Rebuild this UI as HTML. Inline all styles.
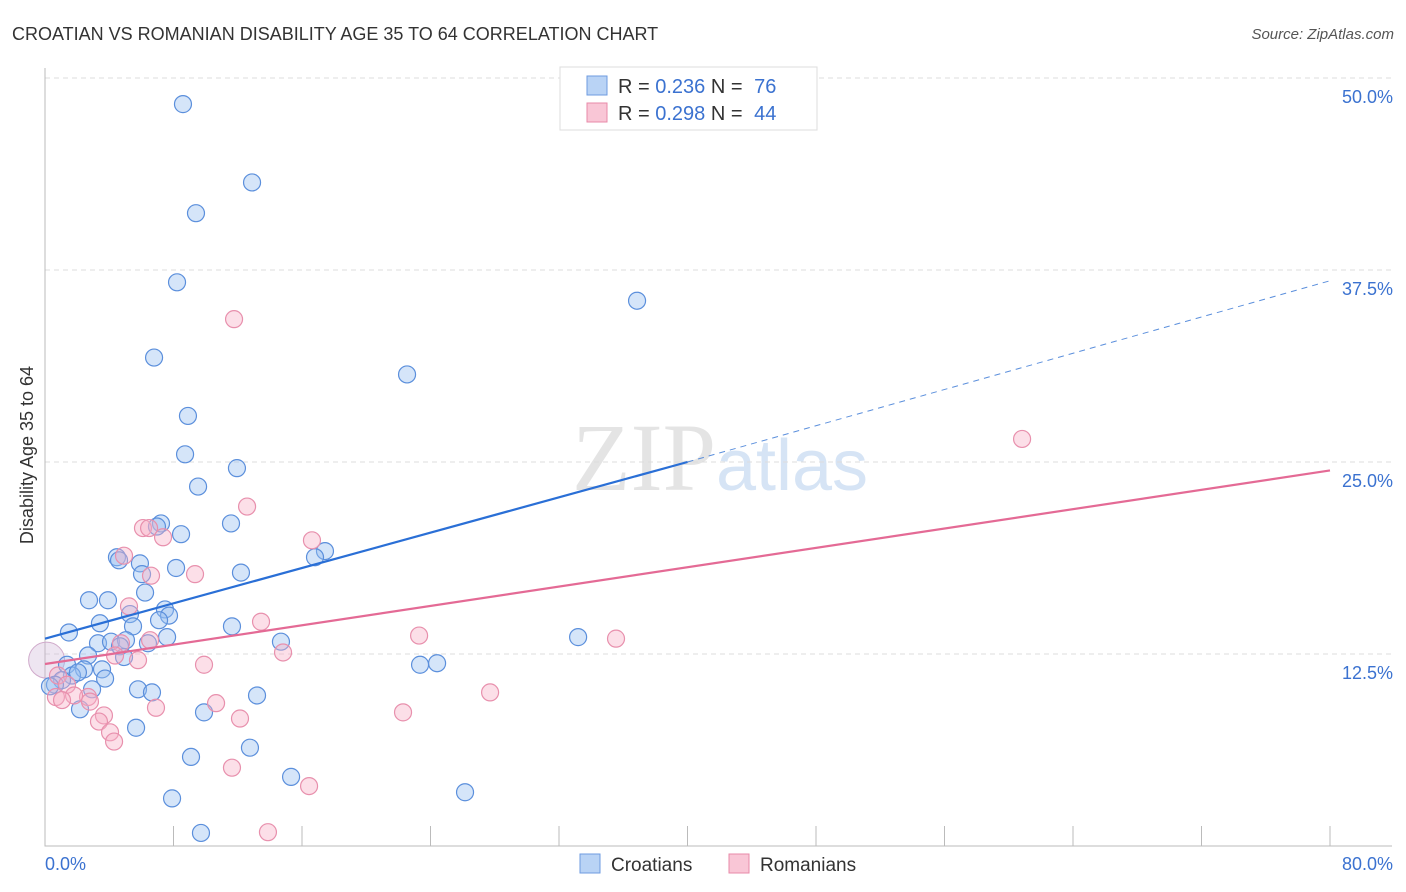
<!DOCTYPE html>
<html><head><meta charset="utf-8"><style>
body{margin:0;background:#fff;font-family:"Liberation Sans",sans-serif}
svg{display:block}
</style></head><body>
<svg id="c" width="1406" height="892">
<text x="12" y="40" font-size="18" fill="#333">CROATIAN VS ROMANIAN DISABILITY AGE 35 TO 64 CORRELATION CHART</text>
<text x="1394" y="39" font-size="15" fill="#555" font-style="italic" text-anchor="end">Source: ZipAtlas.com</text>
<text x="720" y="490" font-size="96" fill="#e4e4e4" text-anchor="middle" font-family="Liberation Serif,serif">ZIP<tspan fill="#d6e4f5" font-family="Liberation Sans,sans-serif" font-size="72">atlas</tspan></text>
<g id="grid"></g>
<g id="axes"></g>
<g id="pts"></g>
<g id="lines"></g>
<text transform="translate(33,455) rotate(-90)" font-size="18" fill="#333" text-anchor="middle">Disability Age 35 to 64</text>
<text x="45" y="870" font-size="18" fill="#3b72d0">0.0%</text>
<text x="1393" y="870" font-size="18" fill="#3b72d0" text-anchor="end">80.0%</text>
<g>
<rect x="560" y="67" width="257" height="63" fill="#fff" stroke="#ddd"/>
<rect x="587" y="76" width="20" height="19" fill="#b9d3f5" stroke="#6e9be0"/>
<rect x="587" y="103" width="20" height="19" fill="#f9c6d6" stroke="#e88aa8"/>
<text x="618" y="93" font-size="20" fill="#333">R = <tspan fill="#3b72d0">0.236</tspan>   N = <tspan fill="#3b72d0" dx="6">76</tspan></text>
<text x="618" y="120" font-size="20" fill="#333">R = <tspan fill="#3b72d0">0.298</tspan>   N = <tspan fill="#3b72d0" dx="6">44</tspan></text>
</g>
<g>
<rect x="580" y="854" width="20" height="19" fill="#b9d3f5" stroke="#6e9be0"/>
<text x="611" y="871" font-size="19" fill="#333">Croatians</text>
<rect x="729" y="854" width="20" height="19" fill="#f9c6d6" stroke="#e88aa8"/>
<text x="760" y="871" font-size="19" fill="#333">Romanians</text>
</g>
</svg>
<script>
const yTicks=[12.5,25,37.5,50];
const yTickLabels=["12.5%","25.0%","37.5%","50.0%"];
const xTicks=[0,8,16,24,32,40,48,56,64,72,80];
const croX=[8.59,12.89,9.40,8.22,36.86,6.79,22.54,8.90,8.72,11.95,9.53,7.22,11.58,6.97,8.47,17.43,16.81,4.48,4.61,5.91,6.04,8.16,12.20,6.23,2.74,3.92,7.47,7.72,5.29,7.10,3.42,5.48,11.64,1.49,7.60,33.19,14.69,3.30,4.11,5.04,6.41,4.67,2.68,4.92,1.37,2.43,3.55,23.35,24.41,1.68,2.05,1.06,0.62,3.74,2.93,5.79,6.66,13.20,2.18,9.90,5.67,12.76,9.09,15.32,26.15,7.91,9.71,0.31];
const croY=[48.3,43.2,41.2,36.7,35.5,31.8,30.7,28.0,25.5,24.6,23.4,21.0,21.0,20.8,20.3,19.2,18.8,18.8,18.6,18.4,17.7,18.1,17.8,16.5,16.0,16.0,15.4,15.0,15.1,14.7,14.5,14.3,14.3,13.9,13.6,13.6,13.3,13.2,13.3,13.4,13.2,13.0,12.4,12.3,11.8,11.5,11.5,11.8,11.9,11.1,11.3,10.8,10.5,10.9,10.2,10.2,10.0,9.8,8.9,8.7,7.7,6.4,5.8,4.5,3.5,3.1,0.85,10.4];
const romX=[11.77,60.83,12.58,6.10,6.48,7.35,16.62,4.92,6.60,9.34,5.23,13.45,23.29,35.55,6.54,4.73,14.82,4.36,5.79,9.90,0.81,1.37,27.71,2.68,1.81,0.68,1.06,2.80,10.65,6.91,22.29,3.67,12.14,3.36,4.05,4.30,11.64,16.44,13.88];
const romY=[34.3,26.5,22.1,20.7,20.7,20.1,19.9,18.9,17.6,17.7,15.6,14.6,13.7,13.5,13.4,13.2,12.6,12.4,12.1,11.8,11.1,10.5,10.0,9.7,9.8,9.7,9.5,9.4,9.3,9.0,8.7,8.5,8.3,8.1,7.4,6.8,5.1,3.9,0.9];
const bigPoint=[0.1,12.1];
const croLine=[[0,13.5],[40,25.0],[80,36.8]];
const romLine=[[0,11.85],[80,24.45]];
const NS="http://www.w3.org/2000/svg";
const X=v=>45+v/80*1285, Y=v=>846-v/12.5*192;
function mk(t,a,p){const e=document.createElementNS(NS,t);for(const k in a)e.setAttribute(k,a[k]);p.appendChild(e);return e;}
const grid=document.getElementById('grid'),axes=document.getElementById('axes'),pts=document.getElementById('pts'),lines=document.getElementById('lines');
yTicks.forEach((t,i)=>{
 const l=mk('line',{x1:45,x2:1392,y1:Y(t),y2:Y(t),stroke:'#ddd','stroke-dasharray':'5,4'},grid);
 
 
 const tx=mk('text',{x:1393,y:Y(t)+25,'font-size':18,fill:'#3b72d0','text-anchor':'end'},grid);
 tx.textContent=yTickLabels[i];
 
 
});
const ax=mk('path',{d:'M45,68V846H1392',stroke:'#bbb',fill:'none'},axes);


xTicks.forEach(t=>{
 const l=mk('line',{x1:X(t),x2:X(t),y1:826,y2:846,stroke:'#bbb'},axes);
 
 
});
const bp=mk('circle',{cx:X(bigPoint[0]),cy:Y(bigPoint[1]),r:18,fill:'rgba(205,180,215,0.35)',stroke:'#d0aacb'},pts);


croX.forEach((x,i)=>{
 const c=mk('circle',{cx:X(x),cy:Y(croY[i]),r:8.5,fill:'rgba(150,190,240,0.4)',stroke:'#5b8fdc','stroke-width':1.2},pts);
 
 
});
romX.forEach((x,i)=>{
 const c=mk('circle',{cx:X(x),cy:Y(romY[i]),r:8.5,fill:'rgba(248,175,198,0.4)',stroke:'#e890ad','stroke-width':1.2},pts);
 
 
});
const cl1=mk('line',{x1:X(croLine[0][0]),y1:Y(croLine[0][1]),x2:X(croLine[1][0]),y2:Y(croLine[1][1]),stroke:'#2a6fd6','stroke-width':2.2},lines);


const cl2=mk('line',{x1:X(croLine[1][0]),y1:Y(croLine[1][1]),x2:X(croLine[2][0]),y2:Y(croLine[2][1]),stroke:'#5b8fdc','stroke-width':1,'stroke-dasharray':'6,5'},lines);


const rl=mk('line',{x1:X(romLine[0][0]),y1:Y(romLine[0][1]),x2:X(romLine[1][0]),y2:Y(romLine[1][1]),stroke:'#e46a95','stroke-width':2.2},lines);


</script>
</body></html>
